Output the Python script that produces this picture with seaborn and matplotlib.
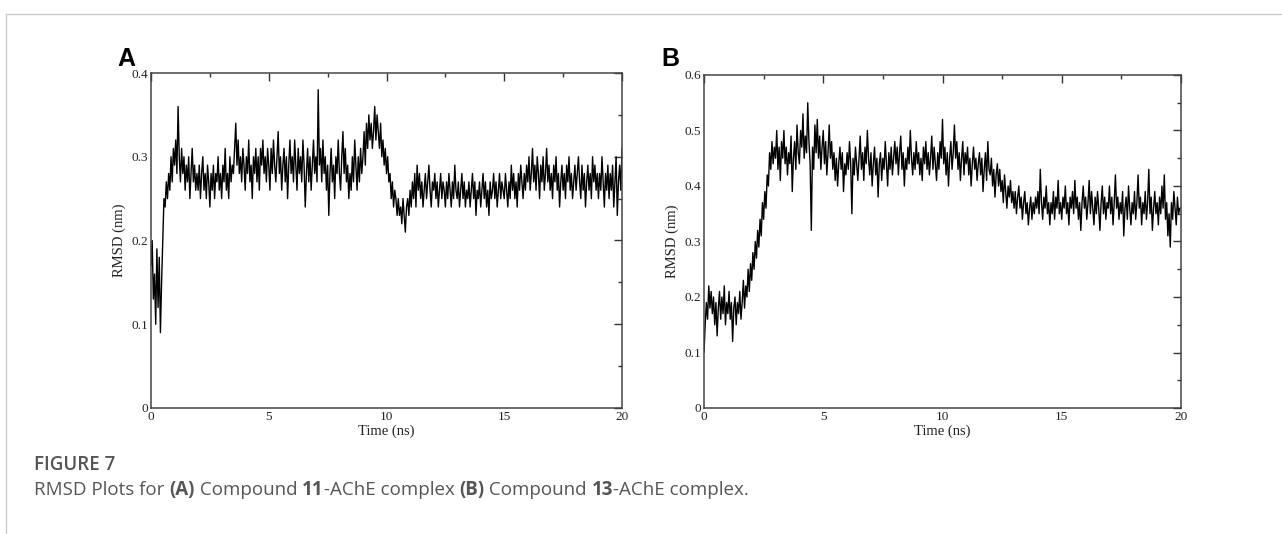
import matplotlib.pyplot as plt
import numpy as np
import seaborn as sns
from matplotlib.lines import Line2D
from matplotlib.ticker import MultipleLocator

# RMSD traces, one value every 0.05 ns (rows = 0.5 ns)
rmsd_a = [
    0.17, 0.20, 0.13, 0.16, 0.10, 0.19, 0.12, 0.18, 0.09, 0.15,
    0.20, 0.25, 0.24, 0.27, 0.25, 0.28, 0.26, 0.30, 0.27, 0.31,
    0.29, 0.32, 0.28, 0.36, 0.30, 0.27, 0.31, 0.28, 0.30, 0.26,
    0.29, 0.27, 0.30, 0.25, 0.28, 0.31, 0.27, 0.29, 0.26, 0.28,
    0.26, 0.29, 0.25, 0.28, 0.30, 0.26, 0.28, 0.25, 0.29, 0.27,
    0.24, 0.28, 0.26, 0.29, 0.25, 0.28, 0.27, 0.30, 0.26, 0.28,
    0.25, 0.29, 0.27, 0.31, 0.26, 0.28, 0.25, 0.30, 0.27, 0.29,
    0.28, 0.31, 0.34, 0.29, 0.32, 0.28, 0.30, 0.27, 0.31, 0.29,
    0.26, 0.30, 0.28, 0.32, 0.27, 0.29, 0.25, 0.30, 0.28, 0.31,
    0.27, 0.30, 0.26, 0.31, 0.29, 0.32, 0.28, 0.30, 0.27, 0.31,
    0.29, 0.26, 0.31, 0.28, 0.32, 0.29, 0.27, 0.30, 0.33, 0.28,
    0.30, 0.26, 0.29, 0.31, 0.27, 0.30, 0.25, 0.29, 0.32, 0.28,
    0.30, 0.27, 0.32, 0.29, 0.26, 0.31, 0.28, 0.30, 0.27, 0.32,
    0.29, 0.24, 0.28, 0.31, 0.27, 0.30, 0.26, 0.29, 0.32, 0.28,
    0.30, 0.27, 0.38, 0.29, 0.31, 0.27, 0.32, 0.28, 0.30, 0.26,
    0.29, 0.23, 0.28, 0.31, 0.27, 0.29, 0.25, 0.30, 0.28, 0.32,
    0.28, 0.26, 0.30, 0.33, 0.28, 0.31, 0.27, 0.29, 0.25, 0.28,
    0.26, 0.30, 0.27, 0.32, 0.29, 0.26, 0.30, 0.27, 0.31, 0.28,
    0.30, 0.33, 0.29, 0.34, 0.31, 0.35, 0.32, 0.34, 0.31, 0.33,
    0.36, 0.32, 0.35, 0.33, 0.31, 0.34, 0.30, 0.32, 0.29, 0.31,
    0.28, 0.30, 0.27, 0.28, 0.25, 0.27, 0.24, 0.26, 0.25, 0.23,
    0.25, 0.23, 0.24, 0.22, 0.25, 0.23, 0.21, 0.24, 0.25, 0.23,
    0.26, 0.24, 0.27, 0.25, 0.28, 0.24, 0.29, 0.26, 0.28, 0.25,
    0.27, 0.24, 0.26, 0.28, 0.25, 0.27, 0.29, 0.26, 0.24, 0.27,
    0.26, 0.28, 0.25, 0.27, 0.24, 0.26, 0.28, 0.25, 0.27, 0.26,
    0.24, 0.27, 0.25, 0.28, 0.26, 0.24, 0.27, 0.25, 0.29, 0.26,
    0.25, 0.27, 0.24, 0.26, 0.28, 0.25, 0.27, 0.24, 0.26, 0.25,
    0.27, 0.24, 0.26, 0.28, 0.25, 0.27, 0.23, 0.26, 0.25, 0.27,
    0.24, 0.26, 0.28, 0.25, 0.27, 0.24, 0.26, 0.23, 0.27, 0.25,
    0.26, 0.28, 0.25, 0.27, 0.24, 0.26, 0.28, 0.25, 0.27, 0.26,
    0.25, 0.28, 0.26, 0.24, 0.27, 0.25, 0.29, 0.26, 0.28, 0.25,
    0.27, 0.24, 0.28, 0.26, 0.29, 0.27, 0.25, 0.28, 0.26, 0.29,
    0.27, 0.30, 0.26, 0.28, 0.31, 0.27, 0.29, 0.26, 0.30, 0.28,
    0.25, 0.29, 0.27, 0.30, 0.26, 0.28, 0.31, 0.27, 0.29, 0.26,
    0.28, 0.25, 0.29, 0.27, 0.30, 0.26, 0.28, 0.24, 0.27, 0.29,
    0.26, 0.28, 0.25, 0.29, 0.27, 0.30, 0.26, 0.28, 0.25, 0.27,
    0.29, 0.26, 0.28, 0.30, 0.27, 0.25, 0.29, 0.26, 0.28, 0.24,
    0.27, 0.29, 0.26, 0.28, 0.25, 0.30, 0.27, 0.29, 0.26, 0.28,
    0.25, 0.28, 0.26, 0.30, 0.27, 0.24, 0.28, 0.26, 0.29, 0.25,
    0.28, 0.26, 0.29, 0.24, 0.27, 0.30, 0.23, 0.27, 0.29, 0.26,
    0.31,
]

rmsd_b = [
    0.10, 0.15, 0.19, 0.16, 0.22, 0.18, 0.21, 0.17, 0.20, 0.15,
    0.19, 0.13, 0.18, 0.21, 0.16, 0.20, 0.17, 0.22, 0.15, 0.19,
    0.17, 0.21, 0.16, 0.19, 0.12, 0.18, 0.20, 0.15, 0.19, 0.17,
    0.21, 0.16, 0.19, 0.23, 0.18, 0.22, 0.20, 0.25, 0.21, 0.26,
    0.23, 0.28, 0.25, 0.30, 0.27, 0.32, 0.29, 0.34, 0.31, 0.37,
    0.34, 0.39, 0.36, 0.42, 0.40, 0.46, 0.43, 0.48, 0.44, 0.47,
    0.45, 0.50, 0.43, 0.47, 0.41, 0.48, 0.45, 0.50, 0.44, 0.47,
    0.42, 0.46, 0.44, 0.49, 0.39, 0.45, 0.48, 0.43, 0.51, 0.46,
    0.44, 0.50, 0.47, 0.53, 0.45, 0.49, 0.46, 0.55, 0.48, 0.44,
    0.32, 0.47, 0.43, 0.51, 0.46, 0.52, 0.45, 0.49, 0.43, 0.47,
    0.50, 0.44, 0.48, 0.42, 0.46, 0.51, 0.45, 0.48, 0.43, 0.46,
    0.41, 0.45, 0.40, 0.44, 0.47, 0.43, 0.46, 0.39, 0.44, 0.42,
    0.46, 0.43, 0.48, 0.44, 0.35, 0.45, 0.42, 0.47, 0.44, 0.41,
    0.45, 0.49, 0.43, 0.46, 0.41, 0.47, 0.44, 0.50, 0.45, 0.42,
    0.46, 0.40, 0.44, 0.47, 0.42, 0.45, 0.38, 0.44, 0.46, 0.41,
    0.45, 0.43, 0.48, 0.44, 0.40, 0.46, 0.43, 0.47, 0.42, 0.45,
    0.48, 0.44, 0.47, 0.42, 0.46, 0.49, 0.43, 0.46, 0.40, 0.45,
    0.43, 0.47, 0.44, 0.50, 0.45, 0.42, 0.46, 0.43, 0.48, 0.44,
    0.46, 0.42, 0.45, 0.41, 0.47, 0.44, 0.48, 0.43, 0.46, 0.42,
    0.45, 0.49, 0.43, 0.47, 0.44, 0.41, 0.46, 0.43, 0.48, 0.45,
    0.52, 0.44, 0.47, 0.42, 0.46, 0.40, 0.45, 0.48, 0.43, 0.46,
    0.51, 0.45, 0.48, 0.43, 0.46, 0.41, 0.45, 0.48, 0.42, 0.46,
    0.44, 0.47, 0.42, 0.45, 0.40, 0.44, 0.47, 0.43, 0.45, 0.41,
    0.44, 0.46, 0.42, 0.45, 0.39, 0.43, 0.46, 0.41, 0.48, 0.43,
    0.42, 0.45, 0.40, 0.43, 0.38, 0.42, 0.44, 0.40, 0.43, 0.39,
    0.41, 0.37, 0.42, 0.39, 0.36, 0.40, 0.38, 0.41, 0.37, 0.39,
    0.36, 0.39, 0.35, 0.38, 0.40, 0.36, 0.38, 0.34, 0.37, 0.39,
    0.35, 0.37, 0.33, 0.36, 0.38, 0.34, 0.37, 0.35, 0.38, 0.36,
    0.39, 0.35, 0.43, 0.37, 0.34, 0.38, 0.36, 0.40, 0.35, 0.37,
    0.33, 0.37, 0.35, 0.39, 0.34, 0.38, 0.36, 0.41, 0.35, 0.37,
    0.34, 0.38, 0.36, 0.40, 0.35, 0.37, 0.33, 0.38, 0.36, 0.39,
    0.35, 0.41, 0.36, 0.38, 0.34, 0.37, 0.32, 0.37, 0.40, 0.36,
    0.38, 0.34, 0.37, 0.41, 0.35, 0.39, 0.36, 0.33, 0.38, 0.35,
    0.39, 0.36, 0.32, 0.37, 0.40, 0.35, 0.38, 0.34, 0.37, 0.36,
    0.40, 0.35, 0.38, 0.33, 0.37, 0.42, 0.36, 0.38, 0.34, 0.37,
    0.35, 0.39, 0.31, 0.36, 0.38, 0.34, 0.40, 0.36, 0.33, 0.37,
    0.35, 0.39, 0.34, 0.37, 0.42, 0.36, 0.38, 0.33, 0.37, 0.35,
    0.39, 0.34, 0.37, 0.43, 0.35, 0.38, 0.32, 0.36, 0.39, 0.35,
    0.37, 0.33, 0.38, 0.35, 0.40, 0.36, 0.42, 0.34, 0.37, 0.31,
    0.35, 0.29, 0.37, 0.34, 0.39, 0.36, 0.33, 0.38, 0.35, 0.36,
    0.36,
]

time_step = 0.05
panels = ["A", "B"]
y_max = [0.4, 0.6]

sns.set_style("white")
plt.rcParams["font.family"] = ["Liberation Serif", "DejaVu Serif"]

W, H = 1282, 534
fig = plt.figure(figsize=(W / 100, H / 100), dpi=100)


def px_axes(left, top, right, bottom):
    return fig.add_axes([left / W, 1 - bottom / H, (right - left) / W, (bottom - top) / H])


axes = [px_axes(151, 73, 622, 408), px_axes(704, 75, 1181, 408)]
letter_x = [117, 661]

for ax, vals, top, letter, lx in zip(axes, [rmsd_a, rmsd_b], y_max, panels, letter_x):
    t = np.arange(len(vals)) * time_step
    sns.lineplot(x=t, y=vals, ax=ax, color="black", linewidth=1.0)
    ax.set_xlim(0, 20)
    ax.set_ylim(0, top)
    ax.xaxis.set_major_locator(MultipleLocator(5))
    ax.xaxis.set_minor_locator(MultipleLocator(2.5))
    ax.yaxis.set_major_locator(MultipleLocator(0.1))
    ax.yaxis.set_minor_locator(MultipleLocator(0.05))
    ax.yaxis.set_major_formatter(plt.FuncFormatter(lambda v, p: "0" if v == 0 else f"{v:g}"))
    ax.tick_params(which="both", direction="in", top=True, right=True, colors="#333333",
                   labelsize=9.5, labelcolor="#222222", pad=2)
    ax.tick_params(which="major", length=6, width=1)
    ax.tick_params(which="minor", length=3, width=1)
    for s in ax.spines.values():
        s.set_color("#444444")
        s.set_linewidth(1.1)
    ax.set_xlabel("Time (ns)", fontsize=10.5, color="#222222", labelpad=1)
    ax.set_ylabel("RMSD (nm)", fontsize=10.5, color="#222222", labelpad=4)
    fig.text(lx / W, 1 - 66 / H, letter, fontsize=18, fontweight="bold",
             family="Liberation Sans", ha="left", va="baseline", color="black")

# page frame lines
fig.add_artist(Line2D([6 / W, 1], [1 - 14 / H, 1 - 14 / H], color="#cccccc", linewidth=1))
fig.add_artist(Line2D([6 / W, 6 / W], [0, 1 - 14 / H], color="#cccccc", linewidth=1))

cap_font = ["Open Sans", "DejaVu Sans"]
cap_x = 34
fig.text(cap_x / W, 1 - 465 / H, "FIGURE 7", family=cap_font, fontsize=13.5, color="#555555",
         fontweight="semibold", va="center")

# caption with bold parts
pieces = [("RMSD Plots for ", "normal"), ("(A)", "bold"), (" Compound ", "normal"), ("11", "bold"),
          ("-AChE complex ", "normal"), ("(B)", "bold"), (" Compound ", "normal"), ("13", "bold"),
          ("-AChE complex.", "normal")]
renderer = fig.canvas.get_renderer()
x = cap_x
for txt, w in pieces:
    tt = fig.text(x / W, 1 - 490 / H, txt, family=cap_font, fontsize=13.5, color="#555555",
                  fontweight=w, va="center")
    bb = tt.get_window_extent(renderer=renderer)
    x += bb.width

fig.savefig("out.png", dpi=100)
